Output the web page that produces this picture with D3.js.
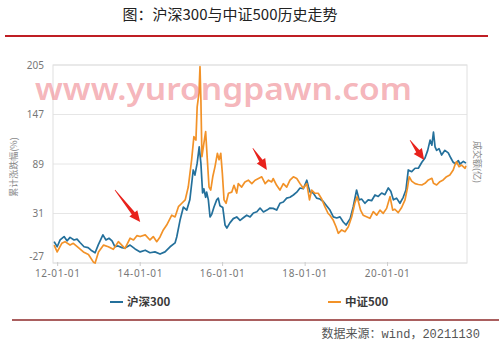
<!DOCTYPE html>
<html>
<head>
<meta charset="utf-8">
<script src="https://cdnjs.cloudflare.com/ajax/libs/d3/7.8.5/d3.min.js"></script>
<style>
    body { margin: 0; background: #fff; }
    svg { display: block; }
    text { font-family: "Noto Sans", "Noto Sans CJK SC", sans-serif; }
</style>
</head>
<body>
<div id="chart"></div>
<script>
// cumulative change (%), [date, value]
var hs300 = [
    ["2011-12-05",-2],["2012-01-01",-8],["2012-01-27",0],["2012-03-02",4],["2012-03-28",-1],["2012-04-24",3],
    ["2012-05-29",0],["2012-06-25",1],["2012-07-21",-3],["2012-08-26",-8],["2012-10-01",-9],["2012-10-27",-12],
    ["2012-12-02",-15],["2012-12-29",-6],["2013-02-09",6],["2013-03-08",0],["2013-04-04",2],["2013-05-01",-1],
    ["2013-05-27",-8],["2013-06-23",-7],["2013-07-28",-9],["2013-08-24",-9.5],["2013-10-08",-6],["2013-11-21",-10.5],
    ["2014-01-05",-14],["2014-02-19",-12],["2014-04-02",-15],["2014-05-16",-14],["2014-06-30",-16.5],["2014-08-13",-14],
    ["2014-09-27",-8],["2014-11-10",-3.5],["2014-11-25",3.5],["2014-12-24",23],["2015-01-23",38.6],["2015-02-22",35],
    ["2015-03-21",47],["2015-04-20",82],["2015-05-05",76],["2015-05-25",90],["2015-06-12",109],["2015-06-27",90],
    ["2015-07-12",55],["2015-07-23",60],["2015-08-08",50],["2015-08-17",56],["2015-09-01",47],["2015-09-16",27],
    ["2015-10-01",30],["2015-10-21",38.6],["2015-11-14",47],["2015-11-28",49],["2015-12-13",40],["2016-01-07",38],
    ["2016-01-27",17.5],["2016-02-12",14],["2016-03-10",20],["2016-04-09",25],["2016-05-09",27],["2016-06-08",23],
    ["2016-07-07",26],["2016-08-06",29],["2016-09-05",27],["2016-10-04",31.6],["2016-11-04",33],["2016-12-02",37.4],
    ["2017-01-01",32.8],["2017-02-01",35],["2017-02-28",37.4],["2017-03-28",37],["2017-04-28",35],["2017-05-27",43],
    ["2017-06-26",44.5],["2017-07-26",49],["2017-08-24",50],["2017-09-23",52.7],["2017-10-23",56],["2017-11-21",60.9],
    ["2017-12-20",60],["2018-01-20",70],["2018-02-04",62],["2018-02-19",56],["2018-03-18",55],["2018-04-17",49],
    ["2018-05-16",48],["2018-06-15",45],["2018-07-14",40],["2018-08-13",35],["2018-09-12",27],["2018-10-12",25.7],
    ["2018-11-10",27],["2018-12-09",21],["2019-01-03",17.5],["2019-02-08",25],["2019-03-07",38.6],["2019-04-06",58.5],
    ["2019-04-29",47],["2019-05-20",48],["2019-06-19",43],["2019-07-18",47],["2019-08-17",46],["2019-09-16",52.7],
    ["2019-10-15",51],["2019-11-14",55],["2019-12-13",53],["2020-01-12",61],["2020-02-03",57],["2020-02-26",47],
    ["2020-03-25",49],["2020-04-24",43],["2020-05-23",50],["2020-06-16",58.5],["2020-07-07",82],["2020-08-06",80],
    ["2020-09-05",84],["2020-10-04",84],["2020-11-04",91],["2020-12-02",96],["2020-12-26",105],["2021-01-16",117],
    ["2021-02-01",111],["2021-02-15",126.5],["2021-03-01",109],["2021-03-15",105],["2021-04-05",107],["2021-04-28",99.5],
    ["2021-05-27",105],["2021-06-26",102],["2021-07-19",96],["2021-08-09",91],["2021-08-30",89],["2021-09-23",93],
    ["2021-10-08",89],["2021-11-07",92],["2021-11-30",90]
];

var csi500 = [
    ["2011-12-05",-6],["2012-01-01",-14],["2012-02-11",-4],["2012-03-10",-2],["2012-04-24",-6],["2012-05-23",-4],
    ["2012-07-07",-9],["2012-08-20",-14],["2012-10-04",-17],["2012-11-17",-26],["2012-12-02",-27],["2013-01-01",-14],
    ["2013-02-15",-6],["2013-03-29",-8],["2013-05-12",-11],["2013-06-26",-2],["2013-07-26",-6],["2013-08-24",-10],
    ["2013-10-08",2],["2013-11-07",0],["2013-12-07",5],["2014-01-05",4],["2014-02-19",6],["2014-04-02",0],
    ["2014-05-01",4],["2014-06-01",-2],["2014-06-30",3.5],["2014-07-29",11.7],["2014-08-28",17.5],["2014-10-12",29],
    ["2014-11-10",27],["2014-12-10",39],["2015-01-09",43],["2015-02-08",47],["2015-03-07",62],["2015-04-06",94],
    ["2015-04-26",121],["2015-05-14",117],["2015-05-25",156],["2015-06-10",172],["2015-06-19",203],["2015-06-27",164],
    ["2015-07-06",97.5],["2015-07-23",113],["2015-08-08",127],["2015-08-23",94],["2015-09-07",62],["2015-09-22",58.5],
    ["2015-10-10",74],["2015-10-30",86],["2015-11-20",101.5],["2015-12-05",94],["2015-12-20",101.5],["2016-01-03",78],
    ["2016-01-18",47],["2016-02-05",43],["2016-02-26",54.7],["2016-03-26",56],["2016-04-15",64],["2016-05-09",55],
    ["2016-05-23",66],["2016-06-22",62],["2016-07-21",68],["2016-08-20",70],["2016-09-20",66],["2016-10-19",70],
    ["2016-11-18",72],["2016-12-17",74],["2017-01-16",66],["2017-02-15",70],["2017-03-15",68],["2017-03-28",72],
    ["2017-04-28",64],["2017-05-27",58.5],["2017-06-26",66],["2017-07-26",62],["2017-08-24",70],["2017-09-23",74],
    ["2017-10-23",72],["2017-11-21",66],["2017-12-20",60.5],["2018-01-20",66],["2018-02-13",47],["2018-03-04",58.5],
    ["2018-04-02",54.7],["2018-05-01",54.7],["2018-06-01",48],["2018-06-29",39],["2018-07-28",31],["2018-08-13",29],
    ["2018-09-12",23],["2018-10-06",15.5],["2018-10-26",7.8],["2018-11-25",11.7],["2018-12-24",9.7],["2019-01-23",15.5],
    ["2019-02-22",27.2],["2019-03-21",43],["2019-04-11",50.7],["2019-05-11",35],["2019-06-03",29],["2019-07-03",27.2],
    ["2019-08-02",25.4],["2019-09-01",33.1],["2019-10-01",29],["2019-10-30",35],["2019-11-28",31.2],["2019-12-28",37],
    ["2020-01-27",50.7],["2020-02-20",35],["2020-03-10",36],["2020-04-09",32],["2020-05-09",38],["2020-06-08",47],
    ["2020-06-28",60],["2020-07-15",74],["2020-08-06",69],["2020-09-05",66],["2020-10-04",65],["2020-11-04",64.4],
    ["2020-12-02",66.4],["2021-01-01",70.3],["2021-02-01",72.2],["2021-02-15",66.4],["2021-03-15",64.4],["2021-04-13",68.3],
    ["2021-05-12",70.3],["2021-06-11",74.1],["2021-07-10",76.1],["2021-08-09",82],["2021-08-24",87.8],["2021-09-07",91.7],
    ["2021-09-29",85.8],["2021-10-22",87.8],["2021-11-22",84],["2021-11-30",87]
];

var yTicks = [-27, 31, 89, 147, 205];
var xTicks = ["2012-01-01", "2014-01-01", "2016-01-01", "2018-01-01", "2020-01-01"];
var seriesNames = ["沪深300", "中证500"];
var colors = ["#24709b", "#f29228"];

// arrows: [tail date, tail value, tip date, tip value]
var arrows = [
    ["2013-05-27", 58.5, "2014-01-05", 21],
    ["2016-09-28", 107.7, "2017-02-01", 82],
    ["2020-07-22", 117, "2020-11-25", 93.7]
];

var width = 499,
    height = 344;

var parse = d3.timeParse("%Y-%m-%d");

var svg = d3.select("#chart")
    .append("svg")
    .attr("width", width)
    .attr("height", height);

svg.append("rect").attr("width", width).attr("height", height).attr("fill", "#fff");

var plotLeft = 53, plotRight = 467, plotTop = 65, plotBottom = 263;

var x = d3.scaleTime()
    .domain([parse("2011-11-25"), parse("2021-12-09")])
    .range([plotLeft, plotRight]);

var y = d3.scaleLinear()
    .domain([-27, 205])
    .range([plotBottom, plotTop]);

// title
svg.append("text")
    .attr("x", 230)
    .attr("y", 20)
    .attr("text-anchor", "middle")
    .style("font-family", "'Noto Sans CJK SC'")
    .style("font-size", "15px")
    .style("font-weight", 400)
    .attr("fill", "#222")
    .text("图：沪深300与中证500历史走势");

svg.append("line")
    .attr("x1", 5).attr("x2", 488)
    .attr("y1", 36).attr("y2", 36)
    .attr("stroke", "#bf1e24")
    .attr("stroke-width", 2);

// grid
svg.append("g")
    .selectAll("line")
    .data(yTicks)
    .enter()
    .append("line")
    .attr("x1", plotLeft).attr("x2", plotRight)
    .attr("y1", function(d) { return y(d); })
    .attr("y2", function(d) { return y(d); })
    .attr("stroke", "#e6e6e6")
    .attr("stroke-width", 1);

svg.append("rect")
    .attr("x", plotLeft).attr("y", plotTop)
    .attr("width", plotRight - plotLeft).attr("height", plotBottom - plotTop)
    .attr("fill", "none")
    .attr("stroke", "#e0e0e0");

// y labels
svg.append("g")
    .selectAll("text")
    .data(yTicks)
    .enter()
    .append("text")
    .attr("x", 44)
    .attr("y", function(d) { return d === -27 ? y(d) - 3 : y(d) + 3.5; })
    .attr("text-anchor", "end")
    .style("font-size", "10px")
    .attr("fill", "#777")
    .text(function(d) { return d; });

// x axis
var xAxis = d3.axisBottom(x)
    .tickValues(xTicks.map(parse))
    .tickFormat(d3.timeFormat("%y-%m-%d"))
    .tickSize(4)
    .tickPadding(4);

var gx = svg.append("g")
    .attr("transform", "translate(0," + (plotBottom - 1) + ")")
    .call(xAxis);
gx.select(".domain").remove();
gx.selectAll("line").attr("stroke", "#ccc");
gx.selectAll("text")
    .attr("fill", "#777")
    .style("font-size", "10px")
    .style("letter-spacing", "0.6px")
    .style("font-family", "'Noto Sans', sans-serif");

// axis titles
svg.append("text")
    .attr("transform", "translate(17,167) rotate(-90)")
    .attr("text-anchor", "middle")
    .style("font-family", "'Noto Sans CJK SC'")
    .style("font-size", "9px")
    .attr("fill", "#888")
    .text("累计涨跌幅(%)");

svg.append("text")
    .attr("transform", "translate(474,162) rotate(90)")
    .attr("text-anchor", "middle")
    .style("font-family", "'Noto Sans CJK SC'")
    .style("font-size", "9px")
    .attr("fill", "#888")
    .text("成交额(亿)");

// lines
var line = d3.line()
    .x(function(d) { return x(parse(d[0])); })
    .y(function(d) { return y(d[1]); });

[hs300, csi500].forEach(function(s, i) {
    svg.append("path")
        .datum(s)
        .attr("fill", "none")
        .attr("stroke", colors[i])
        .attr("stroke-width", 1.7)
        .attr("stroke-linejoin", "round")
        .attr("d", line);
});

// watermark
svg.append("text")
    .attr("x", 35)
    .attr("y", 100)
    .attr("textLength", 377)
    .attr("lengthAdjust", "spacingAndGlyphs")
    .style("font-family", "'Noto Sans', sans-serif")
    .style("font-size", "31px")
    .style("font-weight", 600)
    .attr("fill", "#f08c95")
    .attr("fill-opacity", 0.65)
    .text("www.yurongpawn.com");

// red arrows
svg.append("g")
    .selectAll("path")
    .data(arrows)
    .enter()
    .append("path")
    .attr("fill", "#e8221c")
    .attr("d", function(a) {
        var x0 = x(parse(a[0])), y0 = y(a[1]),
            x1 = x(parse(a[2])), y1 = y(a[3]);
        var dx = x1 - x0, dy = y1 - y0, len = Math.sqrt(dx * dx + dy * dy);
        var ux = dx / len, uy = dy / len, nx = -uy, ny = ux;
        var head = 11, hw = 5, sw = 2;
        var bx = x1 - ux * head, by = y1 - uy * head;
        var p = [
            [x0 + nx * 0.3, y0 + ny * 0.3],
            [bx + nx * sw, by + ny * sw],
            [bx + nx * hw, by + ny * hw],
            [x1, y1],
            [bx - nx * hw, by - ny * hw],
            [bx - nx * sw, by - ny * sw],
            [x0 - nx * 0.3, y0 - ny * 0.3]
        ];
        return "M" + p.map(function(q) { return q[0].toFixed(1) + "," + q[1].toFixed(1); }).join("L") + "Z";
    });

// legend
var legendX = [110, 328];
var legend = svg.append("g")
    .selectAll("g")
    .data(seriesNames)
    .enter()
    .append("g")
    .attr("transform", function(d, i) { return "translate(" + legendX[i] + ",302)"; });

legend.append("line")
    .attr("x1", 0).attr("x2", 13)
    .attr("stroke", function(d, i) { return colors[i]; })
    .attr("stroke-width", 2);

legend.append("text")
    .attr("x", 17)
    .attr("y", 4)
    .style("font-family", "'Noto Sans CJK SC'")
    .style("font-size", "11.5px")
    .style("font-weight", 700)
    .attr("fill", "#3a3a3a")
    .text(function(d) { return d; });

svg.append("line")
    .attr("x1", 12).attr("x2", 499)
    .attr("y1", 320).attr("y2", 320)
    .attr("stroke", "#8e2a2a")
    .attr("stroke-width", 1.5);

svg.append("text")
    .attr("x", 480)
    .attr("y", 338)
    .attr("text-anchor", "end")
    .style("font-family", "'Liberation Mono', 'Noto Sans CJK SC', monospace")
    .style("font-size", "12px")
    .attr("fill", "#555")
    .text("数据来源：wind，20211130");
</script>
</body>
</html>
